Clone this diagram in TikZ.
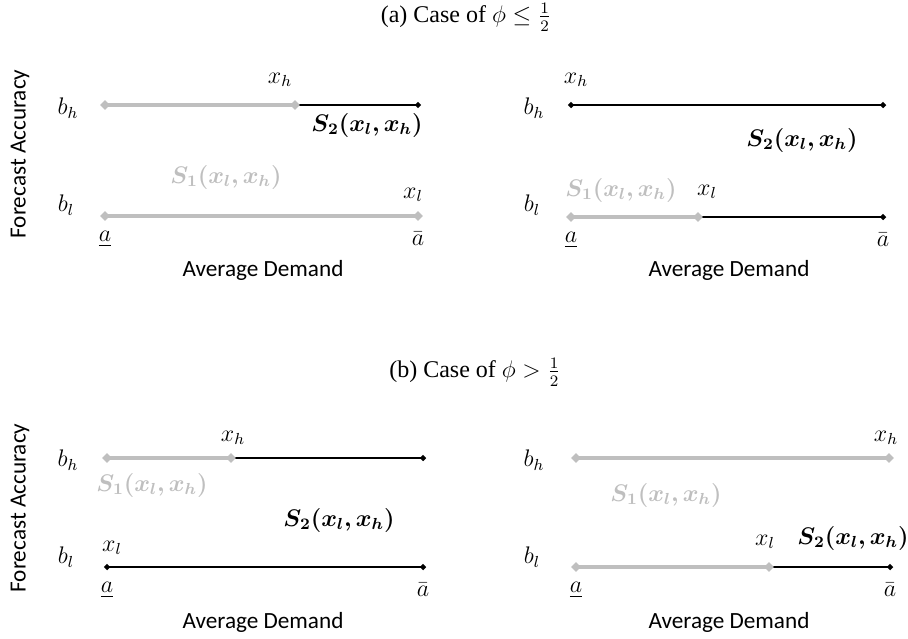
\documentclass[tikz,border=0pt]{standalone}
\usepackage{amsmath, amssymb}
\usepackage{bm}
\usepackage{fontspec}
\setmainfont{Liberation Serif}
\newfontfamily\calibri{Carlito}
\usepackage{tikz}
\usetikzlibrary{shapes.geometric}
\definecolor{grigio}{HTML}{BFBFBF}

\tikzset{
  lab/.style={font=\fontsize{12}{14}\selectfont, inner sep=0pt},
  asse/.style={font=\calibri\fontsize{11.6}{14}\selectfont, inner sep=0pt},
  seggr/.style={draw=grigio, line width=1.6pt},
  segnr/.style={draw=black, line width=1.3pt},
  markgr/.style={diamond, fill=grigio, inner sep=0pt, minimum size=5pt},
  marknr/.style={diamond, fill=black, inner sep=0pt, minimum size=3.4pt},
}

\begin{document}
\begin{tikzpicture}[x=0.5pt,y=-0.5pt]
\useasboundingbox (0,0) rectangle (908,638);

% Titoli
\node[lab] (tita) at (466,17) {(a) Case of $\phi \le \frac{1}{2}$};
\node[lab] (titb) at (475,372) {(b) Case of $\phi > \frac{1}{2}$};

% Punti dei segmenti
\coordinate (a1hL) at (105,105); \coordinate (a1hM) at (295,105); \coordinate (a1hR) at (418,105);
\coordinate (a1lL) at (105,216); \coordinate (a1lR) at (418,216);
\coordinate (a2hL) at (571,105); \coordinate (a2hR) at (883,105);
\coordinate (a2lL) at (571,217); \coordinate (a2lM) at (698,217); \coordinate (a2lR) at (883,217);
\coordinate (b1hL) at (107,458); \coordinate (b1hM) at (231,458); \coordinate (b1hR) at (423,458);
\coordinate (b1lL) at (107,567); \coordinate (b1lR) at (423,567);
\coordinate (b2hL) at (576,458); \coordinate (b2hR) at (889,458);
\coordinate (b2lL) at (576,567); \coordinate (b2lM) at (769,567); \coordinate (b2lR) at (890,567);

% Segmenti neri
\foreach \p/\q in {a1hM/a1hR, a2hL/a2hR, a2lM/a2lR, b1hM/b1hR, b1lL/b1lR, b2lM/b2lR}
{
    \draw[segnr] (\p) -- (\q);
    \node[marknr] at (\p) {};
    \node[marknr] at (\q) {};
}

% Segmenti grigi
\foreach \p/\q in {a1hL/a1hM, a1lL/a1lR, a2lL/a2lM, b1hL/b1hM, b2hL/b2hR, b2lL/b2lM}
{
    \draw[seggr] (\p) -- (\q);
    \node[markgr] at (\p) {};
    \node[markgr] at (\q) {};
}

% Assi
\foreach \n/\dy in {a/0, b/354}
    \node[asse, rotate=90] (\n fa) at (20,154+\dy) {Forecast Accuracy};

\foreach \n/\dx/\dy in {a1/0/0, a2/466/0, b1/0/352, b2/466/352}
{
    \node[lab] (\n bh) at (68+\dx,108+\dy) {$b_h$};
    \node[lab] (\n bl) at (66+\dx,205+\dy) {$b_l$};
    \node[asse] (\n ad) at (263+\dx,270+\dy) {Average Demand};
    \node[lab] (\n amin) at ([yshift=-11.5pt]\n lL) {$\underline{a}$};
    \node[lab] (\n amax) at ([yshift=-11.5pt]\n lR) {$\bar{a}$};
}

% Etichette (a)
\node[lab] (a1xh) at (280,80) {$x_h$};
\node[lab] (a1s2) at (367,125) {$\bm{S_2(x_l,x_h)}$};
\node[lab, text=grigio] (a1s1) at (226,177) {$\bm{S_1(x_l,x_h)}$};
\node[lab] (a1xl) at (413,195) {$x_l$};

\node[lab] (a2xh) at (576,80) {$x_h$};
\node[lab] (a2s2) at (802,140) {$\bm{S_2(x_l,x_h)}$};
\node[lab, text=grigio] (a2s1) at (621,190) {$\bm{S_1(x_l,x_h)}$};
\node[lab] (a2xl) at (707,192) {$x_l$};

% Etichette (b)
\node[lab] (b1xh) at (233,438) {$x_h$};
\node[lab, text=grigio] (b1s1) at (152,485) {$\bm{S_1(x_l,x_h)}$};
\node[lab] (b1s2) at (339,520) {$\bm{S_2(x_l,x_h)}$};
\node[lab] (b1xl) at (112,548) {$x_l$};

\node[lab] (b2xh) at (886,438) {$x_h$};
\node[lab, text=grigio] (b2s1) at (666,495) {$\bm{S_1(x_l,x_h)}$};
\node[lab] (b2xl) at (765,542) {$x_l$};
\node[lab] (b2s2) at (853,538) {$\bm{S_2(x_l,x_h)}$};
\end{tikzpicture}
\end{document}
